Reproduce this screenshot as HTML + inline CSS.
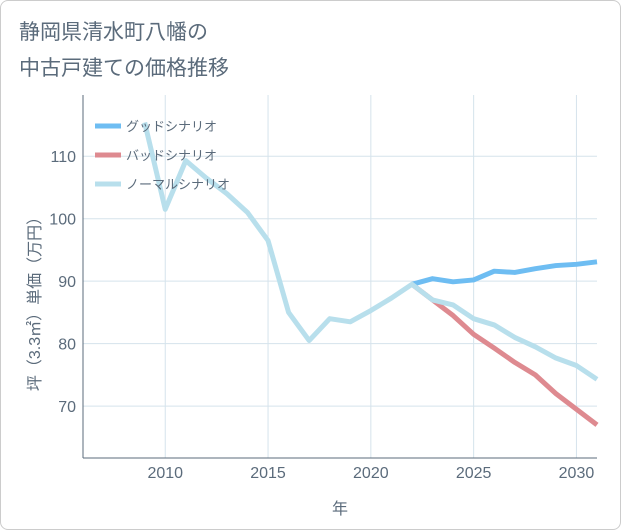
<!DOCTYPE html>
<html><head><meta charset="utf-8"><style>
body{margin:0;background:#fff;font-family:"Liberation Sans","Noto Sans CJK JP",sans-serif;}
#wrap{position:relative;width:619px;height:528px;border:1px solid #ccc;border-radius:8px;background:#fff;}
.title{position:absolute;left:18px;top:14px;font-size:21px;color:#5b6b7b;line-height:36px;}
</style></head><body>
<div id="wrap">
<div class="title">静岡県清水町八幡の<br>中古戸建ての価格推移</div>
<svg id="chart" width="621" height="530" style="position:absolute;left:-1px;top:-1px"></svg>
</div>
<script>
const years=[2009,2010,2011,2012,2013,2014,2015,2016,2017,2018,2019,2020,2021,2022,2023,2024,2025,2026,2027,2028,2029,2030,2031];
const normalVals=[115.4,101.5,109.3,106.5,104,101,96.5,85,80.5,84,83.5,85.3,87.3,89.5,87,86.2,84,83,81,79.5,77.7,76.5,74.3];
const goodYears=[2022,2023,2024,2025,2026,2027,2028,2029,2030,2031];
const goodVals=[89.5,90.4,89.9,90.2,91.6,91.4,92,92.5,92.7,93.1];
const badVals=[89.5,87,84.5,81.5,79.3,77,75,72,69.5,67];
const xTicks=[2010,2015,2020,2025,2030];
const yTicks=[70,80,90,100,110];
const X0=83,X1=597,Y0=458,Y1=95,xmin=2006,xmax=2031,ymin=61.7,ymax=119.8;
const sx=v=>X0+(v-xmin)/(xmax-xmin)*(X1-X0);
const sy=v=>Y0-(v-ymin)/(ymax-ymin)*(Y0-Y1);
const svg=document.getElementById('chart');const NS='http://www.w3.org/2000/svg';
function mk(t,a){const e=document.createElementNS(NS,t);for(const k in a)e.setAttribute(k,a[k]);svg.appendChild(e);return e;}
for(const t of xTicks){const l=mk('line',{x1:sx(t),x2:sx(t),y1:Y1,y2:Y0,stroke:'#d5e3ec'});

const tx=mk('text',{x:sx(t),y:478,'text-anchor':'middle','font-size':16,fill:'#5b6b7b'});tx.textContent=t;
}
for(const t of yTicks){const l=mk('line',{x1:X0,x2:X1,y1:sy(t),y2:sy(t),stroke:'#d5e3ec'});

const tx=mk('text',{x:76,y:sy(t)+6,'text-anchor':'end','font-size':16,fill:'#5b6b7b'});tx.textContent=t;
}
const ax=mk('line',{x1:X0,x2:X0,y1:Y1,y2:Y0,stroke:'#5b6b7b'});
const ax2=mk('line',{x1:X0,x2:X1,y1:Y0,y2:Y0,stroke:'#5b6b7b'});
const xt=mk('text',{x:340,y:514,'text-anchor':'middle','font-size':16,fill:'#5b6b7b'});xt.textContent='年';

const yt=mk('text',{x:0,y:0,'text-anchor':'middle','font-size':16,fill:'#5b6b7b',transform:'translate(40,300) rotate(-90)'});yt.textContent='坪（3.3㎡）単価（万円）';

function line(xs,vs,c,name){const p=mk('polyline',{points:xs.map((x,i)=>sx(x)+','+sy(vs[i])).join(' '),fill:'none',stroke:c,'stroke-width':5,'stroke-linejoin':'round'});
}
line(goodYears,badVals,'#de8a90','bad-scenario-line');
line(goodYears,goodVals,'#6ebdf2','good-scenario-line');
line(years,normalVals,'#b8dfec','normal-scenario-line');
const leg=[['グッドシナリオ','#6ebdf2'],['バッドシナリオ','#de8a90'],['ノーマルシナリオ','#b8dfec']];
leg.forEach((d,i)=>{const y=126+i*29;
const l=mk('line',{x1:95,x2:121,y1:y,y2:y,stroke:d[1],'stroke-width':5});
const t=mk('text',{x:126,y:y+5,'font-size':13,fill:'#5b6b7b'});t.textContent=d[0];});
</script>
</body></html>
